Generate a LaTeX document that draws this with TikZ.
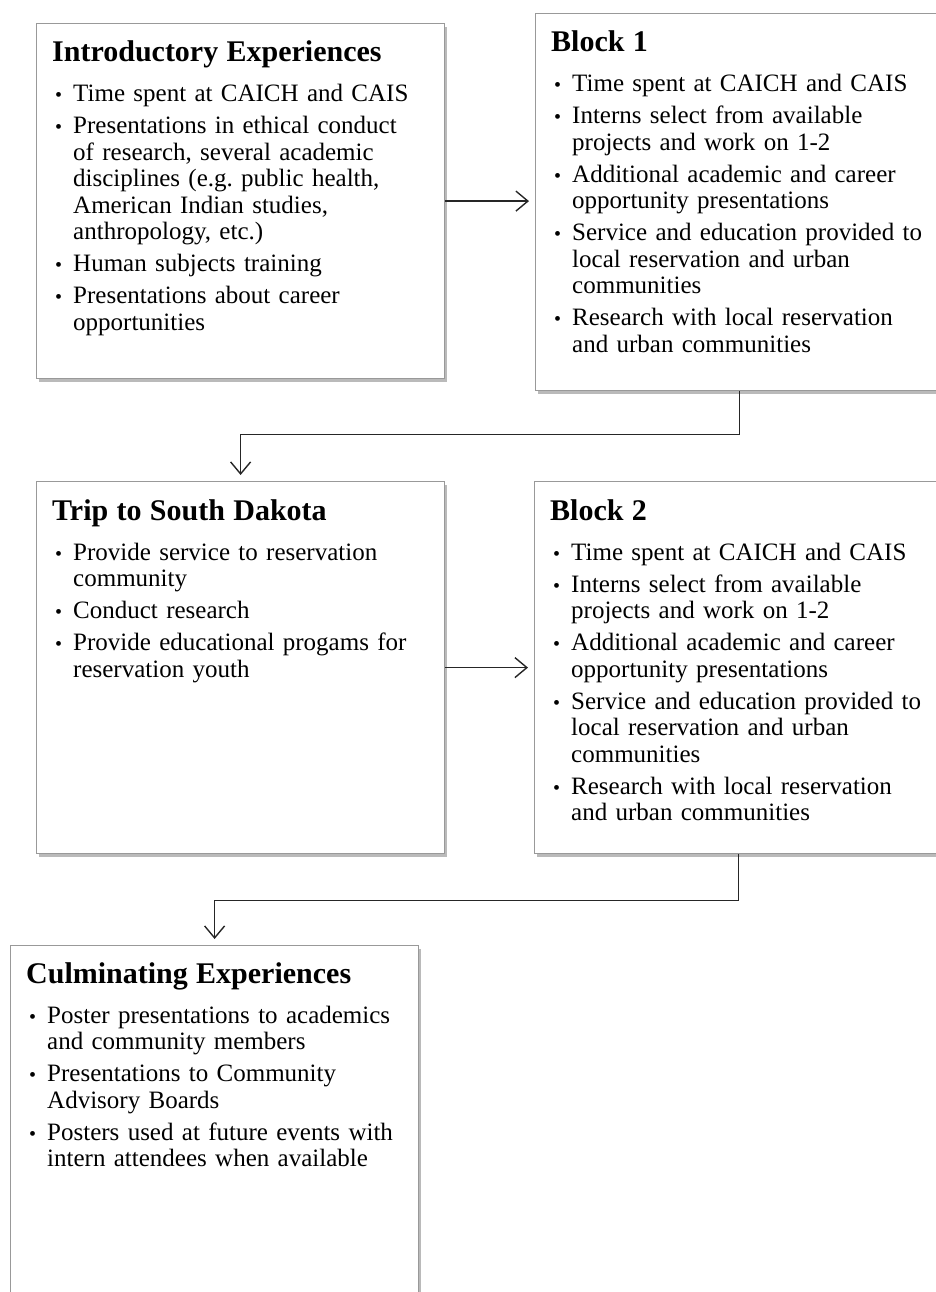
\documentclass[tikz,border=0pt]{standalone}
\usepackage{fontspec}
\setmainfont{Liberation Serif}
\usetikzlibrary{calc}
\usetikzlibrary{positioning}
\usetikzlibrary{arrows.meta}
\usetikzlibrary{shadows}
\frenchspacing

\newcommand{\boxtitle}[1]{{\fontsize{30}{32}\selectfont\bfseries #1}\par\vspace{8pt}}
\newcommand{\bitem}[1]{\par\vspace{5.5pt}\hangindent=21pt\hangafter=1\noindent
  \hspace*{3pt}\makebox[18pt][l]{\fontsize{20}{20}\selectfont\textbullet}#1\par}

\begin{document}
\begin{tikzpicture}[%
  x=1pt, y=-1pt,
  >={Straight Barb[length=12pt,width=20pt]},
  stage/.style={draw=black!40, line width=1.2pt, fill=white, anchor=north west,
    minimum width=408pt, inner sep=0pt,
    drop shadow={shadow xshift=2pt, shadow yshift=-3pt, fill=black!45, opacity=0.6}},
  txt/.style={anchor=base west, inner sep=0pt, text width=400pt, align=left,
    font=\fontsize{25}{26.5}\selectfont},
  conn/.style={->, line width=1.4pt, draw=black!85, shorten >=6pt},
]

  \useasboundingbox (0,0) rectangle (935,1292);

  % boxes
  \node[stage, minimum height=355pt] (intro) at (36,23) {};
  \node[stage, minimum height=377pt] (block1) at (535,13) {};
  \node[stage, minimum height=372pt] (trip) at (36,481) {};
  \node[stage, minimum height=372pt] (block2) at (534,481) {};
  \node[stage, minimum height=420pt] (culm) at (10,945) {};

  % texts
  \node[txt] (intro-t) at ($(intro.north west)+(16,39)$) {%
    \boxtitle{Introductory Experiences}
    \bitem{Time spent at CAICH and CAIS}
    \bitem{Presentations in ethical conduct\newline of research, several academic\newline
      disciplines (e.g.\ public health,\newline American Indian studies,\newline
      anthropology, etc.)}
    \bitem{Human subjects training}
    \bitem{Presentations about career\newline opportunities}};

  \node[txt] (block1-t) at ($(block1.north west)+(16,39)$) {%
    \boxtitle{Block 1}
    \bitem{Time spent at CAICH and CAIS}
    \bitem{Interns select from available\newline projects and work on 1-2}
    \bitem{Additional academic and career\newline opportunity presentations}
    \bitem{Service and education provided to\newline local reservation and urban\newline communities}
    \bitem{Research with local reservation\newline and urban communities}};

  \node[txt] (trip-t) at ($(trip.north west)+(16,39)$) {%
    \boxtitle{Trip to South Dakota}
    \bitem{Provide service to reservation\newline community}
    \bitem{Conduct research}
    \bitem{Provide educational progams for\newline reservation youth}};

  \node[txt] (block2-t) at ($(block2.north west)+(16,39)$) {%
    \boxtitle{Block 2}
    \bitem{Time spent at CAICH and CAIS}
    \bitem{Interns select from available\newline projects and work on 1-2}
    \bitem{Additional academic and career\newline opportunity presentations}
    \bitem{Service and education provided to\newline local reservation and urban\newline communities}
    \bitem{Research with local reservation\newline and urban communities}};

  \node[txt] (culm-t) at ($(culm.north west)+(16,38)$) {%
    \boxtitle{Culminating Experiences}
    \bitem{Poster presentations to academics\newline and community members}
    \bitem{Presentations to Community\newline Advisory Boards}
    \bitem{Posters used at future events with\newline intern attendees when available}};

  % connectors
  \draw[conn] (intro.east) -- (intro.east -| block1.west);
  \draw[conn] (block1.south) -- ++(0,43) -| (trip.north);
  \draw[conn] (trip.east) -- (trip.east -| block2.west);
  \draw[conn] (block2.south) -- ++(0,46) -| (culm.north);

\end{tikzpicture}
\end{document}
